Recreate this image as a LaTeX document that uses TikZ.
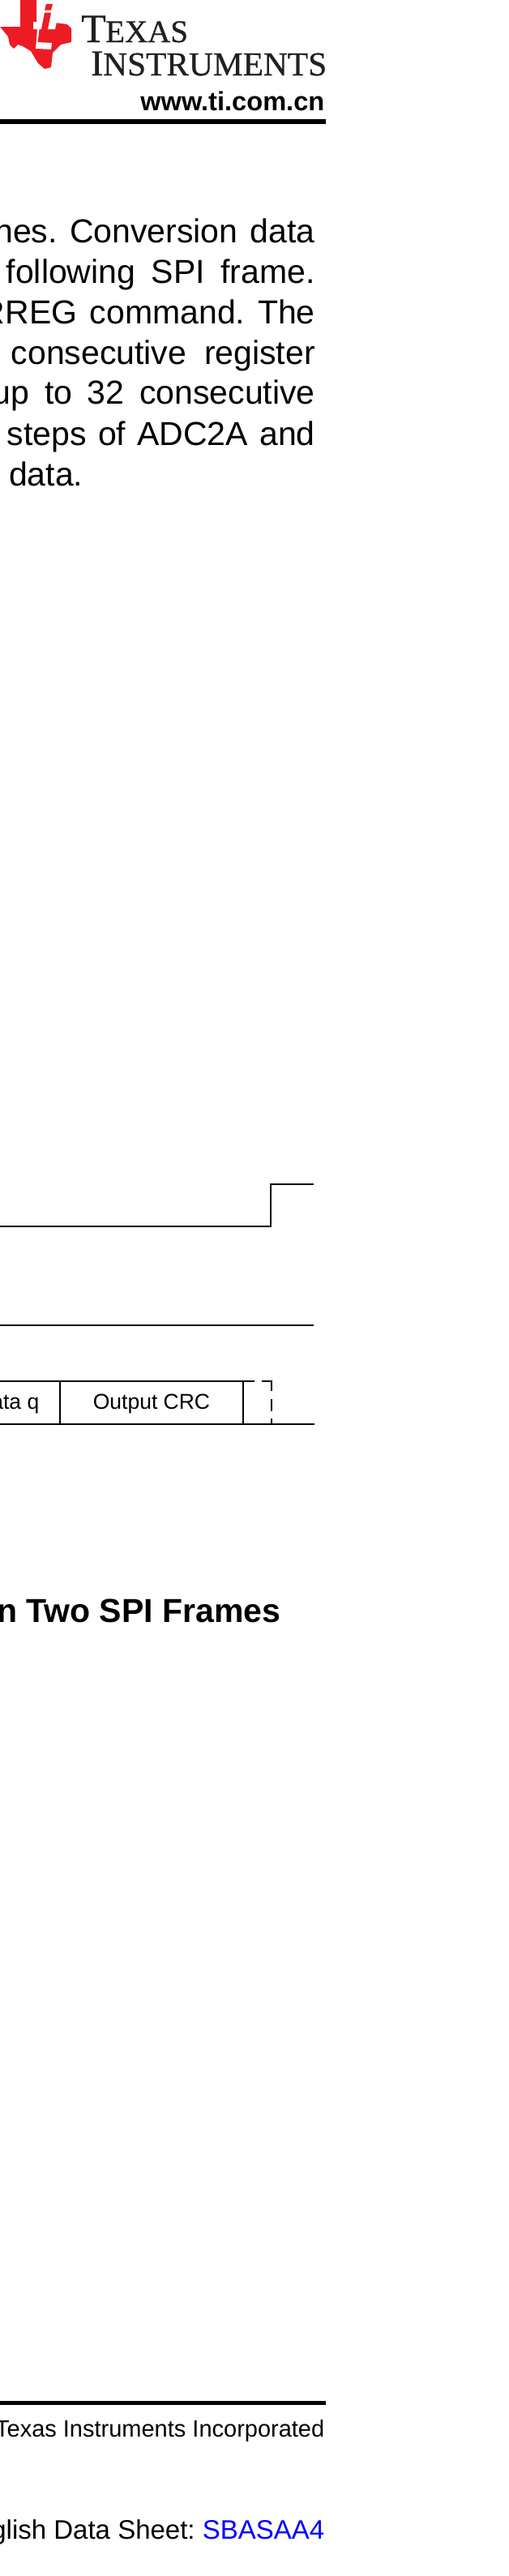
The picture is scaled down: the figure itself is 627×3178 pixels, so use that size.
\documentclass[tikz,border=0pt]{standalone}
\usepackage{fontspec}
\setmainfont{Liberation Sans}
\newfontfamily\logofont[FakeBold=0.7]{Liberation Serif}
\usepackage{xcolor}
\definecolor{tired}{RGB}{237, 28, 36}
\definecolor{tiblack}{RGB}{35, 31, 32}
\definecolor{tiblue}{RGB}{0, 0, 255}
\frenchspacing

\begin{document}
\begin{tikzpicture}[
    x=1pt, y=-1pt,
    bodyline/.style={anchor=base east, inner sep=0pt, font=\fontsize{41}{50}\selectfont},
    logotext/.style={anchor=base west, inner sep=0pt, text=tiblack, font=\logofont},
    footline/.style={anchor=base east, inner sep=0pt, font=\fontsize{29}{35}\selectfont},
    field/.style={rectangle, draw=black, line width=1.4pt, inner sep=0pt, outer sep=0pt, minimum height=53pt, font=\fontsize{26.5}{32}\selectfont},
    signal/.style={draw=black, line width=1.4pt},
    pagerule/.style={draw=black, line width=5.8pt}
]
    \useasboundingbox (0,0) rectangle (627,3178);

    % Logo
    \fill[tired, rounded corners=0.6pt] (25,0) -- (45,0) -- (45,27) -- (68,28) -- (83,30) -- (88,35) -- (88,52) -- (75,55) -- (65,65) -- (63,83) -- (55,85) -- (47,78) -- (38,63) -- (28,57) -- (22,55) -- (17,60) -- (12,55) -- (10,45) -- (0,33) -- (25,33) -- cycle;
    \fill[white] (41,27) -- (70,27) -- (68,36) -- (48.5,36) -- (46.5,52) -- (64,53) -- (63,61) -- (44,60) -- (46,36) -- (41,36) -- cycle;
    \fill[tired] (57,5) -- (65,5) -- (63,12.5) -- (55,12.5) -- cycle;
    \fill[tired] (55,15.5) -- (63,15.5) -- (56,51) -- (48,51) -- cycle;
    \node (texasT) [logotext] at (100,52) {\fontsize{50}{50}\selectfont T};
    \node (texasrest) [logotext] at (130,52) {\fontsize{39}{50}\selectfont EXAS};
    \node (instI) [logotext] at (112,93) {\fontsize{45}{50}\selectfont I};
    \node (instrest) [logotext] at (127,93) {\fontsize{41.4}{50}\selectfont NSTRUMENTS};
    \node (website) [anchor=base east, inner sep=0pt, font=\fontsize{32.6}{40}\selectfont\bfseries] at (400.5,136) {www.ti.com.cn};

    % Body text
    \node (line1) [bodyline] at (389,299) {\makebox[395.5pt][s]{nes. Conversion data}};
    \node (line2) [bodyline] at (389,349) {\makebox[381pt][s]{following SPI frame.}};
    \node (line3) [bodyline] at (389,399) {\makebox[412pt][s]{RREG command. The}};
    \node (line4) [bodyline] at (389,449) {\makebox[375pt][s]{consecutive register}};
    \node (line5) [bodyline] at (389,498) {\makebox[398pt][s]{up to 32 consecutive}};
    \node (line6) [bodyline] at (389,549) {\makebox[380pt][s]{steps of ADC2A and}};
    \node (line7) [bodyline, anchor=base west] at (11,599) {data.};

    % Frame fields
    \node (dataq) [field, minimum width=114pt, anchor=north east] at (74,1704) {};
    \node (crc) [field, minimum width=226pt, anchor=north west] at (74,1704) {};
    \node (dataqtext) [anchor=base east, inner sep=0pt, font=\fontsize{26.5}{32}\selectfont] at (48.5,1738.5) {ata q};
    \node (crctext) [anchor=base, inner sep=0pt, font=\fontsize{26.5}{32}\selectfont] at (187,1738.5) {Output CRC};
    \node (title) [anchor=base east, inner sep=0pt, font=\fontsize{41}{50}\selectfont\bfseries] at (346.5,2001) {n Two SPI Frames};

    % Signal ends
    \coordinate (csstart) at (0,1513);
    \coordinate (csrise) at (334,1513);
    \coordinate (csend) at (387,1461);
    \coordinate (sclkstart) at (0,1635);
    \coordinate (sclkend) at (387,1635);
    \coordinate (dashcorner) at (335,1704);
    \coordinate (dashfoot) at (335,1757);
    \coordinate (busend) at (388,1757);

    % Connections
    \draw [signal] (csstart) -- (csrise) |- (csend);
    \draw [signal] (sclkstart) -- (sclkend);
    \draw [signal] (crc.south east) -- (busend);
    \draw [signal, dash pattern=on 14pt off 9pt on 24pt off 10pt on 15pt off 9pt on 6pt] (crc.north east) -- (dashcorner) -- (dashfoot);

    % Page rules and footer
    \coordinate (headleft) at (0,150);
    \coordinate (headright) at (402,150);
    \coordinate (footleft) at (0,2964.5);
    \coordinate (footright) at (402,2964.5);
    \draw [pagerule] (headleft) -- (headright);
    \draw [pagerule] (footleft) -- (footright);
    \node (copyright) [footline] at (400.5,3006) {Texas Instruments Incorporated};
    \node (sheetline) [footline, font=\fontsize{33}{40}\selectfont] at (400.5,3132) {glish Data Sheet: \textcolor{tiblue}{SBASAA4}};
\end{tikzpicture}
\end{document}
